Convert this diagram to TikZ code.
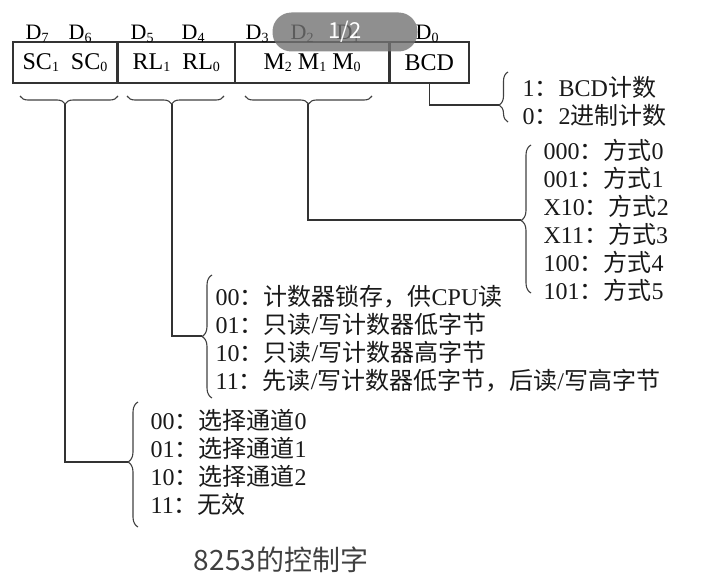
\documentclass[tikz,border=0pt]{standalone}
\usepackage{fontspec}
\setmainfont{Liberation Serif}
\newfontfamily\cjkfont{Noto Sans CJK SC}
\usetikzlibrary{positioning,decorations.pathreplacing}

\newcommand\zh[1]{{\cjkfont #1}}
\newcommand\lowdig[1]{\raisebox{-0.2ex}{\fontsize{14}{14}\selectfont #1}}

\begin{document}
\begin{tikzpicture}[x=1pt, y=-1pt, line width=1.3pt, draw=black!80]
\tikzstyle{cell}=[rectangle, draw=black!80, line width=1.3pt, minimum height=41pt, inner sep=0pt, font=\fontsize{24}{24}\selectfont]
\tikzstyle{bit}=[anchor=base west, inner sep=0pt, font=\fontsize{22}{22}\selectfont]
\tikzstyle{list}=[anchor=west, inner sep=0pt, align=left, text=black!90, font=\fontsize{24}{28}\selectfont]
\tikzstyle{hbrace}=[decorate, draw=black!75, line width=1.1pt]
\useasboundingbox (0,0) rectangle (702,586);

% control word
\node[cell, minimum width=104pt] (sc) at (65,62.5) {SC\lowdig{1}\ \ SC\lowdig{0}};
\node[cell, minimum width=116pt, right=0pt of sc] (rl) {RL\lowdig{1}\ \ RL\lowdig{0}};
\node[cell, minimum width=153pt, right=0pt of rl] (mode) {M\lowdig{2} M\lowdig{1} M\lowdig{0}};
\node[cell, minimum width=79pt, right=0pt of mode] (bcd) {BCD};

% bit numbers
\node[bit] (d7) at (25,40) {D\lowdig{7}};
\node[bit] (d6) at (68,40) {D\lowdig{6}};
\node[bit] (d5) at (130,40) {D\lowdig{5}};
\node[bit] (d4) at (181,40) {D\lowdig{4}};
\node[bit] (d3) at (245,40) {D\lowdig{3}};
\node[bit] (d2) at (290,40) {D\lowdig{2}};
\node[bit] (d1) at (336,40) {D\lowdig{1}};
\node[bit] (d0) at (415,40) {D\lowdig{0}};

% braces under the fields
\draw[hbrace, decoration={brace, amplitude=8pt, aspect=0.54}] (118,96) -- (20,96);
\draw[hbrace, decoration={brace, amplitude=8pt, aspect=0.54}] (224,96) -- (127,96);
\draw[hbrace, decoration={brace, amplitude=8pt, aspect=0.5}] (372,96) -- (245,96);
\coordinate (sctop) at (65,104);
\coordinate (rltop) at (172,104);
\coordinate (modetop) at (308,104);

% meaning of each field
\node[list] (bcdlist) at (522,101) {1\zh{：}BCD\zh{计数}\\0\zh{：}2\zh{进制计数}};
\node[list] (modelist) at (543,220) {000\zh{：方式}0\\001\zh{：方式}1\\X10\zh{：方式}2\\X11\zh{：方式}3\\100\zh{：方式}4\\101\zh{：方式}5};
\node[list] (rllist) at (215,339) {00\zh{：计数器锁存，供}CPU\zh{读}\\01\zh{：只读}/\zh{写计数器低字节}\\10\zh{：只读}/\zh{写计数器高字节}\\11\zh{：先读}/\zh{写计数器低字节，后读}/\zh{写高字节}};
\node[list] (sclist) at (150,462) {00\zh{：选择通道}0\\01\zh{：选择通道}1\\10\zh{：选择通道}2\\11\zh{：无效}};

\draw[hbrace, decoration={brace, amplitude=9pt, aspect=0.34}] (508,122) -- (508,72);
\draw[hbrace, decoration={brace, amplitude=10pt, aspect=0.49}] (531,293) -- (531,145);
\draw[hbrace, decoration={brace, amplitude=10pt, aspect=0.5}] (212,398) -- (212,275);
\draw[hbrace, decoration={brace, amplitude=10pt, aspect=0.52}] (138,527) -- (138,402);
\coordinate (bcdtip) at (499,105);
\coordinate (modetip) at (521,220);
\coordinate (rltip) at (202,336);
\coordinate (sctip) at (128,462);

% connectors
\draw (bcd.south) |- (bcdtip);
\draw (modetop) |- (modetip);
\draw (rltop) |- (rltip);
\draw (sctop) |- (sctip);

% caption
\node[text=black!75, font=\fontsize{28}{28}\selectfont\cjkfont] (caption) at (281,560) {8253的控制字};

% page marker
\node[fill=black!55, fill opacity=0.8, text opacity=1, text=white, rounded corners=19pt, minimum width=145pt, minimum height=39pt, font=\fontsize{22}{22}\selectfont\cjkfont] (pager) at (345,32) {1/2};
\end{tikzpicture}
\end{document}
